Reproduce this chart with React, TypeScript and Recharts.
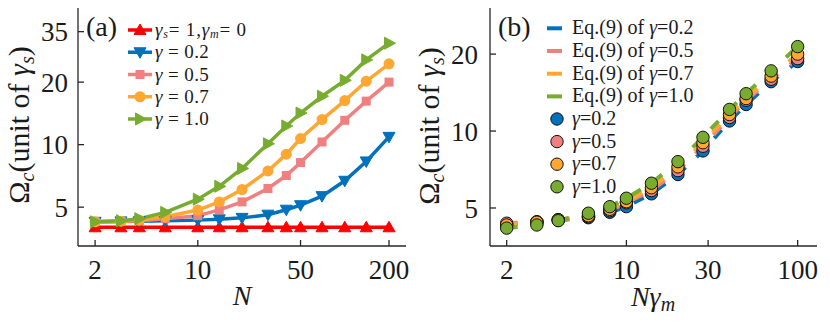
import React from 'react';
import { LineChart, Line, XAxis, YAxis } from 'recharts';

const FONT = "'Liberation Serif', 'DejaVu Serif', serif";
const INK = '#1a1a1a';
const AXIS = '#262626';

const C_RED = '#FF0000';
const C_BLUE = '#0072BD';
const C_PINK = '#F08080';
const C_ORANGE = '#FFA733';
const C_GREEN = '#77AC30';

// ---------- panel (a) ----------
const N_A = [2, 3, 4, 6, 10, 14, 20, 30, 40, 50, 70, 100, 140, 200];
const A_REF = [4.0, 4.0, 4.0, 4.0, 4.0, 4.0, 4.0, 4.0, 4.0, 4.0, 4.0, 4.0, 4.0, 4.0];
const A_G02 = [4.25, 4.27, 4.28, 4.3, 4.33, 4.37, 4.44, 4.6, 4.86, 5.11, 5.65, 6.7, 8.3, 10.9];
const A_G05 = [4.25, 4.27, 4.3, 4.4, 4.55, 4.85, 5.3, 6.15, 7.1, 8.2, 10.3, 13.1, 16.2, 20.0];
const A_G07 = [4.25, 4.28, 4.33, 4.5, 4.84, 5.3, 6.08, 7.47, 9.0, 10.7, 13.2, 16.3, 20.2, 24.5];
const A_G10 = [4.25, 4.3, 4.4, 4.72, 5.46, 6.3, 7.68, 10.1, 12.3, 14.2, 17.1, 20.4, 25.6, 30.8];
const A_X_TICKS = [2, 10, 50, 200];
const A_Y_TICKS = [5, 10, 20, 35];
const A_X_DOMAIN = [1.53, 261];
const A_Y_DOMAIN = [3.25, 45.5];

// ---------- panel (b) ----------
const X_B = [2, 3, 4, 6, 8, 10, 14, 20, 28, 40, 50, 70, 100];
const B_G02 = [4.3, 4.4, 4.48, 4.58, 4.81, 5.06, 5.68, 6.76, 8.36, 10.95, 12.7, 15.6, 18.7];
const B_G05 = [4.36, 4.42, 4.5, 4.62, 4.88, 5.24, 5.85, 7.0, 8.72, 11.3, 13.2, 15.95, 19.2];
const B_G07 = [4.29, 4.4, 4.5, 4.66, 4.94, 5.29, 6.0, 7.24, 9.0, 11.6, 13.4, 16.4, 20.0];
const B_G10 = [4.17, 4.29, 4.46, 4.77, 5.06, 5.46, 6.25, 7.59, 9.45, 12.15, 14.0, 17.2, 21.4];
const B_X_TICKS = [2, 10, 30, 100];
const B_Y_TICKS = [5, 10, 20];
const B_X_DOMAIN = [1.598, 129.7];
const B_Y_DOMAIN = [3.55, 30.3];

const dataA = N_A.map((n, i) => ({
  N: n,
  ref: A_REF[i],
  g02: A_G02[i],
  g05: A_G05[i],
  g07: A_G07[i],
  g10: A_G10[i],
}));

const dataB = X_B.map((x, i) => ({
  x,
  g02: B_G02[i],
  g05: B_G05[i],
  g07: B_G07[i],
  g10: B_G10[i],
}));

// ---------- markers ----------
type MP = { cx?: number; cy?: number; index?: number };
const upTri = (color: string) => (p: MP) => {
  const { cx = 0, cy = 0, index } = p;
  return (
    <polygon key={`u${index}`} points={`${cx},${cy - 6} ${cx - 6},${cy + 4.5} ${cx + 6},${cy + 4.5}`} fill={color} stroke={color} strokeWidth={1} />
  );
};
const downTri = (color: string) => (p: MP) => {
  const { cx = 0, cy = 0, index } = p;
  return (
    <polygon key={`d${index}`} points={`${cx},${cy + 6} ${cx - 6},${cy - 4.5} ${cx + 6},${cy - 4.5}`} fill={color} stroke={color} strokeWidth={1} />
  );
};
const rightTri = (color: string) => (p: MP) => {
  const { cx = 0, cy = 0, index } = p;
  return (
    <polygon key={`r${index}`} points={`${cx + 6.5},${cy} ${cx - 4.5},${cy - 6} ${cx - 4.5},${cy + 6}`} fill={color} stroke={color} strokeWidth={1} />
  );
};
const square = (color: string) => (p: MP) => {
  const { cx = 0, cy = 0, index } = p;
  return <rect key={`s${index}`} x={cx - 4.5} y={cy - 4.5} width={9} height={9} fill={color} />;
};
const circ = (color: string) => (p: MP) => {
  const { cx = 0, cy = 0, index } = p;
  return <circle key={`c${index}`} cx={cx} cy={cy} r={5.5} fill={color} />;
};
const bigCirc = (color: string) => (p: MP) => {
  const { cx = 0, cy = 0, index } = p;
  return <circle key={`b${index}`} cx={cx} cy={cy} r={6.2} fill={color} stroke="#111" strokeWidth={1} />;
};

const tickStyle = { fill: INK, fontSize: 27, fontFamily: FONT, style: { fontFamily: FONT } };
const blank = () => '';

const LEGEND_A = [
  { color: C_RED, kind: 'up' },
  { color: C_BLUE, kind: 'down', label: '0.2' },
  { color: C_PINK, kind: 'sq', label: '0.5' },
  { color: C_ORANGE, kind: 'ci', label: '0.7' },
  { color: C_GREEN, kind: 'rt', label: '1.0' },
];
const LEGEND_B_LINES = [
  { color: C_BLUE, label: '0.2' },
  { color: C_PINK, label: '0.5' },
  { color: C_ORANGE, label: '0.7' },
  { color: C_GREEN, label: '1.0' },
];

function legendMarker(kind: string, color: string, cx: number, cy: number) {
  if (kind === 'up') return upTri(color)({ cx, cy, index: 0 });
  if (kind === 'down') return downTri(color)({ cx, cy, index: 0 });
  if (kind === 'sq') return square(color)({ cx, cy, index: 0 });
  if (kind === 'ci') return circ(color)({ cx, cy, index: 0 });
  return rightTri(color)({ cx, cy, index: 0 });
}

const T = { fontFamily: FONT };

export default function App() {
  const LFA = 19;
  const LFB = 20;
  return (
    <div style={{ position: 'absolute', left: 0, top: 0, width: 830, height: 324, background: '#fff', fontFamily: FONT }}>
      <div style={{ position: 'absolute', left: 0, top: 0 }}>
        <LineChart width={420} height={324} data={dataA} margin={{ top: 8, right: 14, bottom: 18, left: 0 }} style={T}>
          <XAxis xAxisId="b" dataKey="N" type="number" scale="log" domain={A_X_DOMAIN} allowDataOverflow ticks={A_X_TICKS}
            height={60} tickSize={-6} tickMargin={20} tick={tickStyle} stroke={AXIS} strokeWidth={1.3} interval={0} />
          <XAxis xAxisId="t" orientation="top" dataKey="N" type="number" scale="log" domain={A_X_DOMAIN} allowDataOverflow ticks={A_X_TICKS}
            height={0} tickSize={-6} tickFormatter={blank} stroke={AXIS} strokeWidth={1.3} interval={0} />
          <YAxis yAxisId="l" type="number" scale="log" domain={A_Y_DOMAIN} allowDataOverflow ticks={A_Y_TICKS}
            width={78} tickSize={-6} tickMargin={16} tick={tickStyle} stroke={AXIS} strokeWidth={1.3} interval={0} />
          <YAxis yAxisId="r" orientation="right" type="number" scale="log" domain={A_Y_DOMAIN} allowDataOverflow ticks={A_Y_TICKS}
            width={0} tickSize={-6} tickFormatter={blank} stroke={AXIS} strokeWidth={1.3} interval={0} />
          <Line xAxisId="b" yAxisId="l" dataKey="ref" stroke={C_RED} strokeWidth={3.5} dot={upTri(C_RED)} isAnimationActive={false} />
          <Line xAxisId="b" yAxisId="l" dataKey="g02" stroke={C_BLUE} strokeWidth={3.5} dot={downTri(C_BLUE)} isAnimationActive={false} />
          <Line xAxisId="b" yAxisId="l" dataKey="g05" stroke={C_PINK} strokeWidth={3.5} dot={square(C_PINK)} isAnimationActive={false} />
          <Line xAxisId="b" yAxisId="l" dataKey="g07" stroke={C_ORANGE} strokeWidth={3.5} dot={circ(C_ORANGE)} isAnimationActive={false} />
          <Line xAxisId="b" yAxisId="l" dataKey="g10" stroke={C_GREEN} strokeWidth={3.5} dot={rightTri(C_GREEN)} isAnimationActive={false} />
        </LineChart>
      </div>
      <div style={{ position: 'absolute', left: 410, top: 0 }}>
        <LineChart width={420} height={324} data={dataB} margin={{ top: 8, right: 13, bottom: 18, left: 0 }} style={T}>
          <XAxis xAxisId="b" dataKey="x" type="number" scale="log" domain={B_X_DOMAIN} allowDataOverflow ticks={B_X_TICKS}
            height={60} tickSize={-6} tickMargin={20} tick={tickStyle} stroke={AXIS} strokeWidth={1.3} interval={0} />
          <XAxis xAxisId="t" orientation="top" dataKey="x" type="number" scale="log" domain={B_X_DOMAIN} allowDataOverflow ticks={B_X_TICKS}
            height={0} tickSize={-6} tickFormatter={blank} stroke={AXIS} strokeWidth={1.3} interval={0} />
          <YAxis yAxisId="l" type="number" scale="log" domain={B_Y_DOMAIN} allowDataOverflow ticks={B_Y_TICKS}
            width={80} tickSize={-6} tickMargin={18} tick={tickStyle} stroke={AXIS} strokeWidth={1.3} interval={0} />
          <YAxis yAxisId="r" orientation="right" type="number" scale="log" domain={B_Y_DOMAIN} allowDataOverflow ticks={B_Y_TICKS}
            width={0} tickSize={-6} tickFormatter={blank} stroke={AXIS} strokeWidth={1.3} interval={0} />
          <Line xAxisId="b" yAxisId="l" dataKey="g02" stroke={C_BLUE} strokeWidth={4} strokeDasharray="11 15" dot={false} isAnimationActive={false} />
          <Line xAxisId="b" yAxisId="l" dataKey="g05" stroke={C_PINK} strokeWidth={4} strokeDasharray="11 15" dot={false} isAnimationActive={false} />
          <Line xAxisId="b" yAxisId="l" dataKey="g07" stroke={C_ORANGE} strokeWidth={4} strokeDasharray="11 15" dot={false} isAnimationActive={false} />
          <Line xAxisId="b" yAxisId="l" dataKey="g10" stroke={C_GREEN} strokeWidth={4} strokeDasharray="11 15" dot={false} isAnimationActive={false} />
          <Line xAxisId="b" yAxisId="l" dataKey="g02" stroke="none" dot={bigCirc(C_BLUE)} isAnimationActive={false} />
          <Line xAxisId="b" yAxisId="l" dataKey="g05" stroke="none" dot={bigCirc(C_PINK)} isAnimationActive={false} />
          <Line xAxisId="b" yAxisId="l" dataKey="g07" stroke="none" dot={bigCirc(C_ORANGE)} isAnimationActive={false} />
          <Line xAxisId="b" yAxisId="l" dataKey="g10" stroke="none" dot={bigCirc(C_GREEN)} isAnimationActive={false} />
        </LineChart>
      </div>
      <svg width={830} height={324} style={{ position: 'absolute', left: 0, top: 0, pointerEvents: 'none', fontFamily: FONT }}
        fill={INK}>
        {/* panel (a) labels */}
        <text x={86} y={36} fontSize={28} style={T}>(a)</text>
        {LEGEND_A.map((e, i) => {
          const y = 30 + i * 22.25;
          return (
            <g key={`la${i}`}>
              <line x1={128} x2={152} y1={y} y2={y} stroke={e.color} strokeWidth={3.5} />
              {legendMarker(e.kind, e.color, 140, y)}
              {i === 0 ? (
                <text x={155} y={y + 6} fontSize={LFA} style={T} letterSpacing={0.8}>
                  <tspan fontStyle="italic">γ</tspan>
                  <tspan fontStyle="italic" fontSize={12} dy={2}>s</tspan>
                  <tspan dy={-2}>= 1,</tspan>
                  <tspan fontStyle="italic">γ</tspan>
                  <tspan fontStyle="italic" fontSize={12} dy={2}>m</tspan>
                  <tspan dy={-2}>= 0</tspan>
                </text>
              ) : (
                <text x={155} y={y + 6} fontSize={LFA} style={T} letterSpacing={0.4}>
                  <tspan fontStyle="italic">γ</tspan>
                  <tspan> = {e.label}</tspan>
                </text>
              )}
            </g>
          );
        })}
        <text x={242} y={305} fontSize={28} fontStyle="italic" textAnchor="middle" style={T}>N</text>
        <text x={29} y={125} fontSize={30} textAnchor="middle" transform="rotate(-90 29 125)" style={T}>
          Ω<tspan fontStyle="italic" fontSize={20} dy={5}>c</tspan>
          <tspan dy={-5}>(unit of </tspan>
          <tspan fontStyle="italic">γ</tspan>
          <tspan fontStyle="italic" fontSize={20} dy={5}>s</tspan>
          <tspan dy={-5}>)</tspan>
        </text>

        {/* panel (b) labels */}
        <text x={498} y={36} fontSize={28} style={T}>(b)</text>
        {LEGEND_B_LINES.map((e, i) => {
          const y = 28.3 + i * 22.7;
          return (
            <g key={`lb${i}`}>
              <line x1={547} x2={562} y1={y} y2={y} stroke={e.color} strokeWidth={4} />
              <text x={572} y={y + 6} fontSize={LFB} style={T}>
                Eq.(9) of <tspan fontStyle="italic">γ</tspan>={e.label}
              </text>
            </g>
          );
        })}
        {LEGEND_B_LINES.map((e, i) => {
          const y = 119 + i * 22.6;
          return (
            <g key={`lc${i}`}>
              {bigCirc(e.color)({ cx: 557, cy: y, index: i })}
              <text x={572} y={y + 6} fontSize={LFB} style={T}>
                <tspan fontStyle="italic">γ</tspan>={e.label}
              </text>
            </g>
          );
        })}
        <text x={653} y={306} fontSize={28} textAnchor="middle" style={T}>
          <tspan fontStyle="italic">N</tspan>
          <tspan fontStyle="italic">γ</tspan>
          <tspan fontStyle="italic" fontSize={20} dy={5}>m</tspan>
        </text>
        <text x={439} y={126} fontSize={30} textAnchor="middle" transform="rotate(-90 439 126)" style={T}>
          Ω<tspan fontStyle="italic" fontSize={20} dy={5}>c</tspan>
          <tspan dy={-5}>(unit of </tspan>
          <tspan fontStyle="italic">γ</tspan>
          <tspan fontStyle="italic" fontSize={20} dy={5}>s</tspan>
          <tspan dy={-5}>)</tspan>
        </text>
      </svg>
    </div>
  );
}
